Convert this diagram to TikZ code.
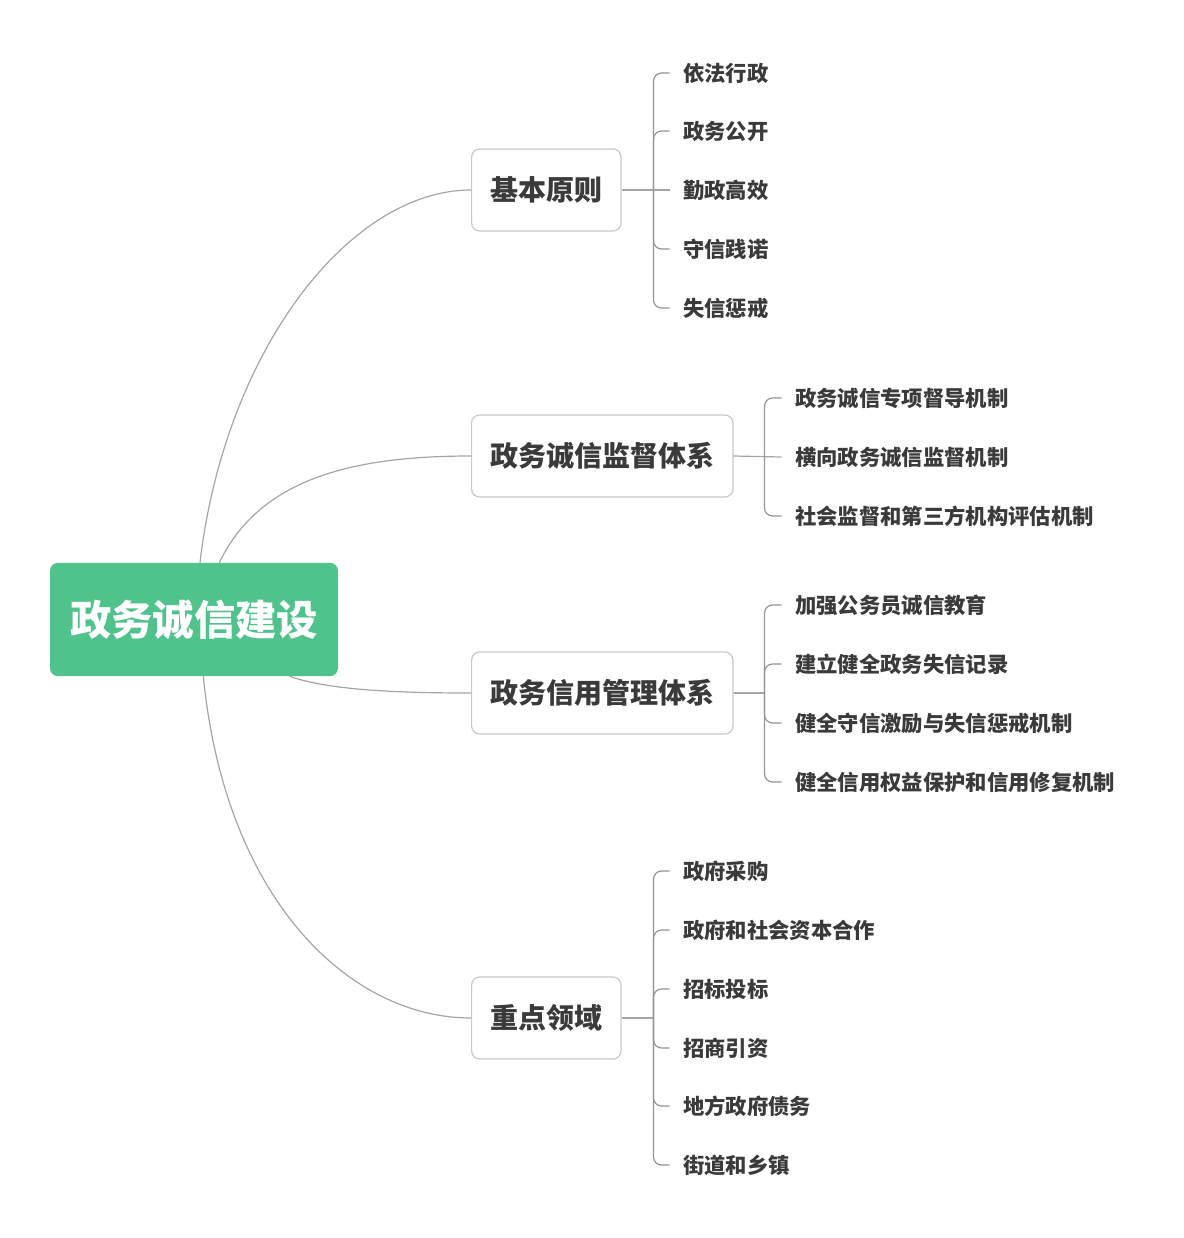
\documentclass[tikz,border=0pt]{standalone}
\usepackage{fontspec}
\setmainfont{Noto Sans CJK SC}
\usetikzlibrary{positioning,calc}
\definecolor{rootgreen}{RGB}{80,194,139}
\definecolor{linegray}{RGB}{165,165,165}
\definecolor{boxgray}{RGB}{200,200,200}
\definecolor{textgray}{RGB}{58,58,58}
\tikzset{
  rootbox/.style={fill=rootgreen,rounded corners=6pt,text=white,font=\fontsize{31}{31}\selectfont\bfseries,minimum width=216pt,minimum height=85pt},
  topicbox/.style={draw=boxgray,line width=0.9pt,fill=white,rounded corners=6pt,text=textgray,font=\fontsize{21}{21}\selectfont\bfseries,inner xsep=14pt,minimum height=61.5pt,anchor=west},
  leaf/.style={inner sep=0pt,anchor=west,text=textgray,font=\fontsize{16}{16}\selectfont\bfseries},
  conn/.style={draw=linegray,line width=0.9pt},
  bracket/.style={conn,draw=linegray!90!black,rounded corners=6pt}
}

\begin{document}
\begin{tikzpicture}[x=0.75pt,y=-0.75pt]
\useasboundingbox (0,0) rectangle (1183,1238);
\node[rootbox](root) at (194,619.5){政务诚信建设};
\node[topicbox](jb) at (471,190){基本原则};
\node[topicbox](jd) at (471,456){政务诚信监督体系};
\node[topicbox](gl) at (471,693){政务信用管理体系};
\node[topicbox](zd) at (471,1018){重点领域};
% root to topics
\draw[conn]([xshift=4.5pt]root.north) .. controls +(25,-213) and +(-121,0) .. (jb.west);
\draw[conn]([xshift=19pt]root.north) .. controls +(40,-83) and +(-121,0) .. (jd.west);
\draw[conn]([xshift=72pt]root.south) .. controls +(40,14) and +(-71,0) .. (gl.west);
\draw[conn]([xshift=7pt]root.south) .. controls +(22,224) and +(-121,0) .. (zd.west);
% 基本原则
\node[leaf](jb1) at (683,73){依法行政};
\node[leaf](jb2) at (683,131){政务公开};
\node[leaf](jb3) at (683,190){勤政高效};
\node[leaf](jb4) at (683,249){守信践诺};
\node[leaf](jb5) at (683,308){失信惩戒};
\coordinate(jbj) at ($(jb.east)+(32,0)$);
\draw[conn](jb.east)--([xshift=-10pt]jb3.west);
\draw[bracket](jbj)|-([xshift=-10pt]jb1.west); \draw[bracket](jbj)|-([xshift=-10pt]jb2.west);
\draw[bracket](jbj)|-([xshift=-10pt]jb4.west); \draw[bracket](jbj)|-([xshift=-10pt]jb5.west);
% 政务诚信监督体系
\node[leaf](jd1) at (795,398){政务诚信专项督导机制};
\node[leaf](jd2) at (795,457){横向政务诚信监督机制};
\node[leaf](jd3) at (795,516){社会监督和第三方机构评估机制};
\coordinate(jdj) at ($(jd.east)+(31,0)$);
\draw[conn](jd.east)--([xshift=-10pt]jd2.west);
\draw[bracket](jdj)|-([xshift=-10pt]jd1.west); \draw[bracket](jdj)|-([xshift=-10pt]jd3.west);
% 政务信用管理体系
\node[leaf](gl1) at (795,605){加强公务员诚信教育};
\node[leaf](gl2) at (795,664){建立健全政务失信记录};
\node[leaf](gl3) at (795,723){健全守信激励与失信惩戒机制};
\node[leaf](gl4) at (795,782){健全信用权益保护和信用修复机制};
\coordinate(glj) at ($(gl.east)+(31,0)$);
\draw[conn](gl.east)--(glj);
\draw[bracket](glj)|-([xshift=-10pt]gl1.west); \draw[bracket](glj)|-([xshift=-10pt]gl2.west);
\draw[bracket](glj)|-([xshift=-10pt]gl3.west); \draw[bracket](glj)|-([xshift=-10pt]gl4.west);
% 重点领域
\node[leaf](zd1) at (683,871){政府采购};
\node[leaf](zd2) at (683,930){政府和社会资本合作};
\node[leaf](zd3) at (683,989){招标投标};
\node[leaf](zd4) at (683,1048){招商引资};
\node[leaf](zd5) at (683,1106){地方政府债务};
\node[leaf](zd6) at (683,1165){街道和乡镇};
\coordinate(zdj) at ($(zd.east)+(32,0)$);
\draw[conn](zd.east)--(zdj);
\draw[bracket](zdj)|-([xshift=-10pt]zd1.west); \draw[bracket](zdj)|-([xshift=-10pt]zd2.west);
\draw[bracket](zdj)|-([xshift=-10pt]zd3.west); \draw[bracket](zdj)|-([xshift=-10pt]zd4.west);
\draw[bracket](zdj)|-([xshift=-10pt]zd5.west); \draw[bracket](zdj)|-([xshift=-10pt]zd6.west);
\end{tikzpicture}
\end{document}
